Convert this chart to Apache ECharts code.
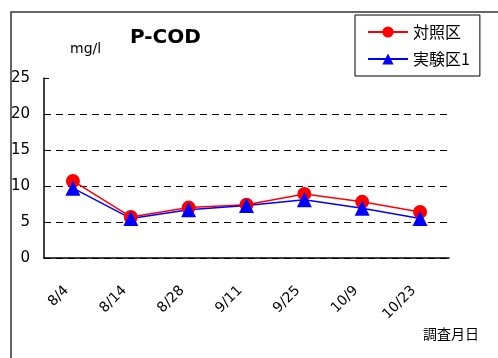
<!DOCTYPE html>
<html>
<head>
<meta charset="utf-8">
<script src="https://cdn.jsdelivr.net/npm/echarts@6/dist/echarts.min.js"></script>
<style>
    html, body { margin: 0; padding: 0; background: #fff; }
    #chart { width: 498px; height: 358px; }
</style>
</head>
<body>
<div id="chart"></div>
<script>
// 調査日
const dates = ['8/4', '8/14', '8/28', '9/11', '9/25', '10/9', '10/23'];
// 対照区
const controlValues = [10.7, 5.7, 7.0, 7.4, 8.9, 7.8, 6.4];
// 実験区1
const testValues = [9.7, 5.5, 6.7, 7.3, 8.1, 6.9, 5.5];

const font = '"Noto Sans CJK JP", "Noto Sans", sans-serif';

let myChart = echarts.init(document.getElementById('chart'));
myChart.setOption({
    animation: false,
    backgroundColor: '#fff',
    textStyle: { fontFamily: font },
    graphic: [
        // 外枠
        { type: 'rect', shape: { x: 11, y: 12, width: 520, height: 400 },
          style: { fill: 'none', stroke: '#333', lineWidth: 1.5 }, silent: true },
        { type: 'text', left: 130, top: 28,
          style: { text: 'P-COD', font: 'bold 20px "DejaVu Sans", sans-serif', fill: '#000' } },
        { type: 'text', left: 70, top: 42,
          style: { text: 'mg/l', font: '14px "DejaVu Sans", sans-serif', fill: '#000' } },
        { type: 'text', left: 423, top: 327,
          style: { text: '調査月日', font: '14px ' + font, fill: '#000' } }
    ],
    legend: {
        orient: 'vertical',
        left: 355,
        top: 15,
        width: 122,
        padding: [9, 10, 9, 12],
        itemGap: 11,
        itemWidth: 40,
        itemHeight: 14,
        borderColor: '#000',
        borderWidth: 1,
        textStyle: { fontSize: 16, color: '#000', fontFamily: font },
        data: ['対照区', '実験区1']
    },
    grid: { left: 44, right: 49, top: 78, bottom: 100 },
    xAxis: {
        type: 'category',
        data: dates,
        boundaryGap: true,
        axisLine: { lineStyle: { color: '#000', width: 1.5 } },
        axisTick: { inside: true, length: 5, lineStyle: { color: '#000' } },
        axisLabel: {
            rotate: 45, margin: 24, padding: [0, 9, 0, 0],
            fontSize: 14, color: '#000', fontFamily: '"DejaVu Sans", sans-serif'
        },
        splitLine: { show: false }
    },
    yAxis: {
        type: 'value',
        min: 0,
        max: 25,
        interval: 5,
        axisLine: { show: true, lineStyle: { color: '#000', width: 1.5 } },
        axisTick: { show: true, inside: true, length: 5, lineStyle: { color: '#000' } },
        axisLabel: { margin: 14, fontSize: 15, color: '#000', fontFamily: '"DejaVu Sans", sans-serif' },
        splitLine: {
            show: true,
            showMaxLine: false,
            lineStyle: { color: '#000', type: [7, 5], width: 1 }
        }
    },
    series: [
        {
            name: '対照区',
            type: 'line',
            data: controlValues,
            symbol: 'circle',
            symbolSize: 14,
            itemStyle: { color: '#ff0000' },
            lineStyle: { color: '#ff0000', width: 1.5 }
        },
        {
            name: '実験区1',
            type: 'line',
            data: testValues,
            symbol: 'triangle',
            symbolSize: 15,
            itemStyle: { color: '#0000ff' },
            lineStyle: { color: '#0000ff', width: 1.5 }
        }
    ]
});
</script>
</body>
</html>
